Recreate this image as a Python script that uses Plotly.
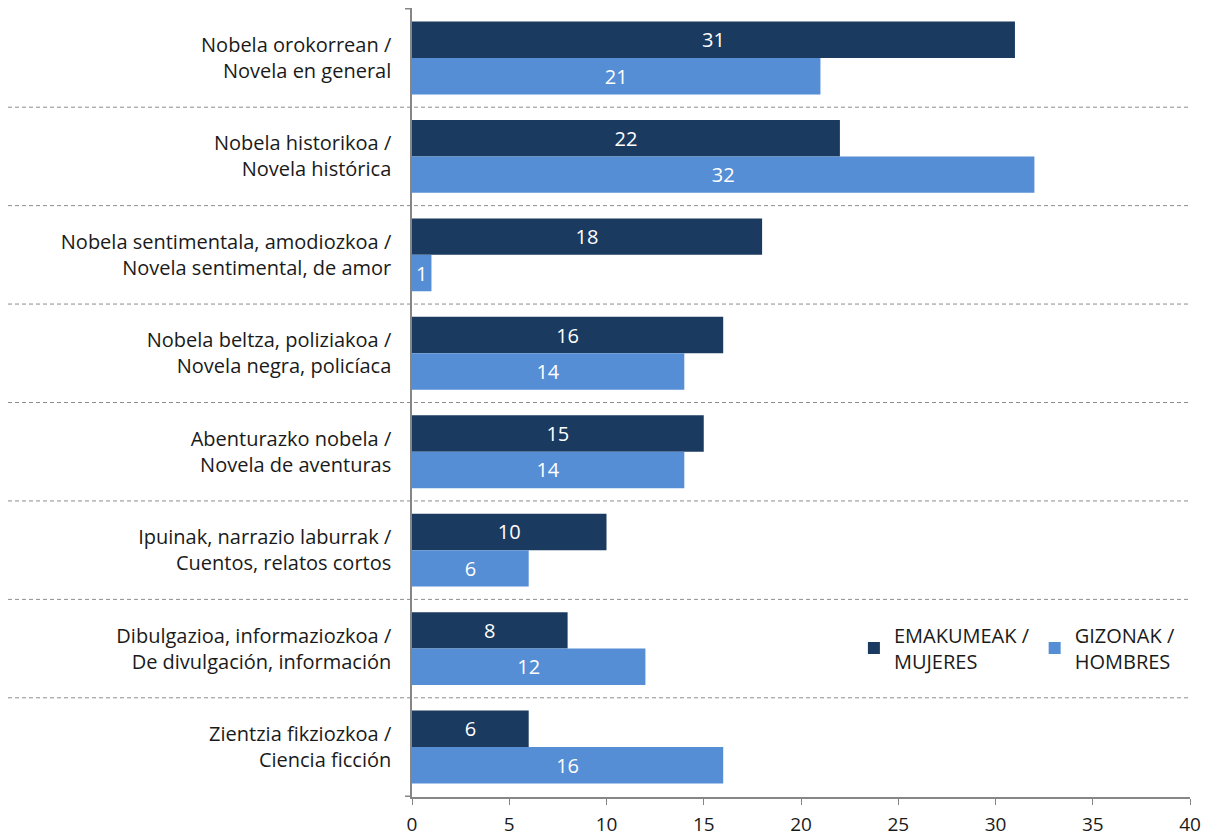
import plotly.graph_objects as go

categories = [
    "Nobela orokorrean /<br>Novela en general",
    "Nobela historikoa /<br>Novela histórica",
    "Nobela sentimentala, amodiozkoa /<br>Novela sentimental, de amor",
    "Nobela beltza, poliziakoa /<br>Novela negra, policíaca",
    "Abenturazko nobela /<br>Novela de aventuras",
    "Ipuinak, narrazio laburrak /<br>Cuentos, relatos cortos",
    "Dibulgazioa, informaziozkoa /<br>De divulgación, información",
    "Zientzia fikziozkoa /<br>Ciencia ficción",
]
women = [31, 22, 18, 16, 15, 10, 8, 6]
men = [21, 32, 1, 14, 14, 6, 12, 16]
series_names = ["EMAKUMEAK /<br>MUJERES", "GIZONAK /<br>HOMBRES"]
x_ticks = [0, 5, 10, 15, 20, 25, 30, 35, 40]

FONT = "Open Sans"
FS = 20
dark = "#1B3A5F"
light = "#558ED5"
txt = "#1a1a1a"
axis_col = "#868686"

# page body has an 8px margin, so the figure is drawn 8px down/right
W, H = 1209, 830
L, T = 404, 0
PW, PH = 778, 789

fig = go.Figure()
for name, vals, col in [(series_names[0], women, dark), (series_names[1], men, light)]:
    fig.add_trace(go.Bar(
        y=categories, x=vals, name=name, orientation="h",
        marker=dict(color=col, line=dict(width=0)),
        text=[str(v) for v in vals], textposition="inside",
        insidetextanchor="middle", constraintext="none",
        textfont=dict(color="white", size=FS, family=FONT),
        cliponaxis=False,
    ))

shapes = []
for i in range(len(categories) - 1):
    shapes.append(dict(type="line", xref="paper", yref="y",
                       x0=-(412 - 8) / PW, x1=1, y0=i + 0.5, y1=i + 0.5,
                       line=dict(color="#8C8C8C", width=1, dash="4px,3px"), layer="below"))
for yv in [-0.5, len(categories) - 0.5]:
    shapes.append(dict(type="line", xref="paper", yref="y",
                       x0=-7 / PW, x1=0, y0=yv, y1=yv,
                       line=dict(color=axis_col, width=1.5)))

fig.update_layout(
    width=W, height=H,
    margin=dict(l=L, r=W - L - PW, t=T, b=H - T - PH),
    paper_bgcolor="white", plot_bgcolor="white",
    barmode="group", bargap=0.26, bargroupgap=0,
    font=dict(family=FONT, size=FS, color=txt),
    uniformtext=dict(minsize=FS, mode="show"),
    shapes=shapes,
    legend=dict(orientation="h", x=0.568, y=0.23, xanchor="left", yanchor="top",
                font=dict(size=FS, family=FONT, color=txt),
                bgcolor="rgba(0,0,0,0)", traceorder="normal"),
    xaxis=dict(range=[0, 40], tickvals=x_ticks, showgrid=False, zeroline=False,
               showline=True, linecolor=axis_col, linewidth=1.5,
               ticks="outside", ticklen=6, tickcolor=axis_col, ticklabelstandoff=3,
               tickfont=dict(size=19, family=FONT, color=txt)),
    yaxis=dict(autorange="reversed", showgrid=False, showline=True,
               linecolor=axis_col, linewidth=1.5, ticks="", ticklabelstandoff=15,
               tickfont=dict(size=FS, family=FONT, color=txt)),
)

fig.write_html("out.html")
